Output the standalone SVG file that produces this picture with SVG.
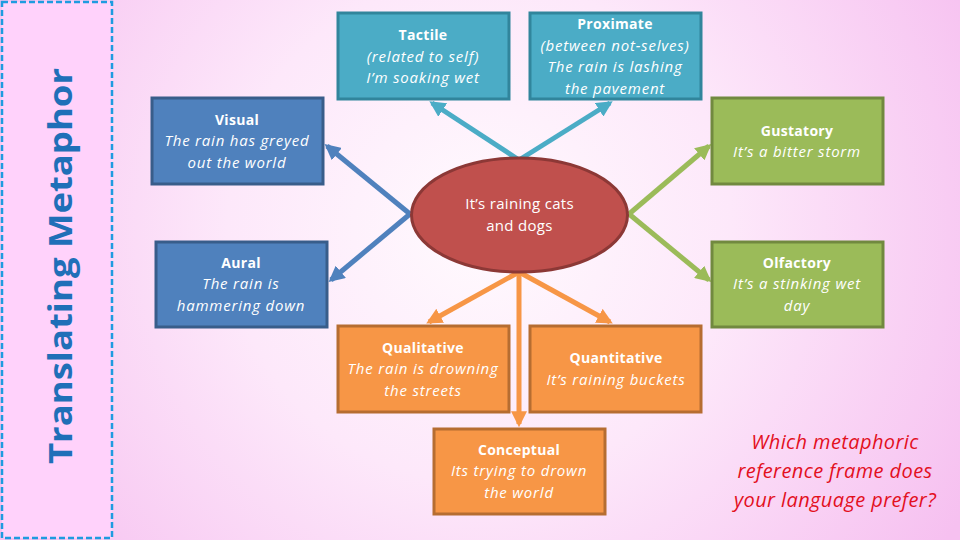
<svg xmlns="http://www.w3.org/2000/svg" width="960" height="540" viewBox="0 0 960 540">
<defs>
<radialGradient id="bg" cx="480" cy="230" r="560" gradientUnits="userSpaceOnUse">
<stop offset="0" stop-color="#fffafe"/>
<stop offset="0.45" stop-color="#fde8fa"/>
<stop offset="1" stop-color="#f6c0f0"/>
</radialGradient>
<marker id="aCyan" viewBox="0 0 10 10" refX="8" refY="5" markerWidth="3.2" markerHeight="3.2" orient="auto" markerUnits="strokeWidth"><path d="M0,0 L10,5 L0,10 Z" fill="#4bacc6"/></marker>
<marker id="aBlue" viewBox="0 0 10 10" refX="8" refY="5" markerWidth="3.2" markerHeight="3.2" orient="auto" markerUnits="strokeWidth"><path d="M0,0 L10,5 L0,10 Z" fill="#4f81bd"/></marker>
<marker id="aGreen" viewBox="0 0 10 10" refX="8" refY="5" markerWidth="3.2" markerHeight="3.2" orient="auto" markerUnits="strokeWidth"><path d="M0,0 L10,5 L0,10 Z" fill="#9bbb59"/></marker>
<marker id="aOrange" viewBox="0 0 10 10" refX="8" refY="5" markerWidth="3.2" markerHeight="3.2" orient="auto" markerUnits="strokeWidth"><path d="M0,0 L10,5 L0,10 Z" fill="#f79646"/></marker>
</defs>
<style>
text{font-family:"Open Sans","DejaVu Sans",sans-serif;fill:#ffffff;text-anchor:middle}
.t{font-weight:bold;font-size:14px;letter-spacing:0.3px}
.i{font-style:italic;font-size:15px;letter-spacing:0.8px}
.q{font-style:italic;font-size:20px;letter-spacing:0.4px;fill:#e3101e}
.cyan rect{fill:#4bacc6;stroke:#31859c;stroke-width:3}
.blue rect{fill:#4f81bd;stroke:#385d8a;stroke-width:3}
.green rect{fill:#9bbb59;stroke:#71893f;stroke-width:3}
.orange rect{fill:#f79646;stroke:#b66d31;stroke-width:3}
.c{fill:none;stroke-width:5}
</style>
<rect x="0" y="0" width="960" height="540" fill="url(#bg)"/>
<g id="sidebar">
<rect x="2" y="2" width="110" height="536" fill="#ffd2fb" stroke="#1e9be0" stroke-width="2.5" stroke-dasharray="6 3"/>
<text transform="translate(72,266) rotate(-90)" style="font-weight:bold;font-size:33px;fill:#1f6fb8" textLength="396" lengthAdjust="spacingAndGlyphs">Translating Metaphor</text>
</g>
<g id="connectors">
<line class="c" x1="519" y1="160" x2="432" y2="103" stroke="#4bacc6" marker-end="url(#aCyan)"/>
<line class="c" x1="519" y1="160" x2="610" y2="103" stroke="#4bacc6" marker-end="url(#aCyan)"/>
<line class="c" x1="410" y1="214" x2="327" y2="146" stroke="#4f81bd" marker-end="url(#aBlue)"/>
<line class="c" x1="410" y1="214" x2="331" y2="280" stroke="#4f81bd" marker-end="url(#aBlue)"/>
<line class="c" x1="629" y1="214" x2="709" y2="146" stroke="#9bbb59" marker-end="url(#aGreen)"/>
<line class="c" x1="629" y1="214" x2="709" y2="280" stroke="#9bbb59" marker-end="url(#aGreen)"/>
<line class="c" x1="519" y1="272" x2="429" y2="322" stroke="#f79646" marker-end="url(#aOrange)"/>
<line class="c" x1="519" y1="272" x2="610" y2="322" stroke="#f79646" marker-end="url(#aOrange)"/>
<line class="c" x1="519" y1="272" x2="519" y2="424" stroke="#f79646" marker-end="url(#aOrange)"/>
</g>
<g id="tactile" class="cyan">
<rect x="338" y="13" width="171" height="86"/>
<text class="t" x="423" y="40">Tactile</text>
<text class="i" x="423" y="62">(related to self)</text>
<text class="i" x="423" y="83">I’m soaking wet</text>
</g>
<g id="proximate" class="cyan">
<rect x="530" y="13" width="171" height="86"/>
<text class="t" x="615" y="29">Proximate</text>
<text class="i" x="615" y="51">(between not-selves)</text>
<text class="i" x="615" y="72">The rain is lashing</text>
<text class="i" x="615" y="94">the pavement</text>
</g>
<g id="visual" class="blue">
<rect x="152" y="98" width="171" height="86"/>
<text class="t" x="237" y="125">Visual</text>
<text class="i" x="237" y="146">The rain has greyed</text>
<text class="i" x="237" y="168">out the world</text>
</g>
<g id="aural" class="blue">
<rect x="156" y="242" width="171" height="85"/>
<text class="t" x="241" y="268">Aural</text>
<text class="i" x="241" y="289">The rain is</text>
<text class="i" x="241" y="311">hammering down</text>
</g>
<g id="gustatory" class="green">
<rect x="712" y="98" width="171" height="86"/>
<text class="t" x="797" y="136">Gustatory</text>
<text class="i" x="797" y="157">It’s a bitter storm</text>
</g>
<g id="olfactory" class="green">
<rect x="712" y="242" width="171" height="85"/>
<text class="t" x="797" y="268">Olfactory</text>
<text class="i" x="797" y="289">It’s a stinking wet</text>
<text class="i" x="797" y="311">day</text>
</g>
<g id="center">
<ellipse cx="519.5" cy="215" rx="108" ry="57" fill="#c0504d" stroke="#8c3836" stroke-width="3"/>
<text x="519.5" y="209" style="font-size:15px;letter-spacing:0.3px">It’s raining cats</text>
<text x="519.5" y="231" style="font-size:15px;letter-spacing:0.3px">and dogs</text>
</g>
<g id="qualitative" class="orange">
<rect x="338" y="326" width="171" height="86"/>
<text class="t" x="423" y="353">Qualitative</text>
<text class="i" x="423" y="374">The rain is drowning</text>
<text class="i" x="423" y="396">the streets</text>
</g>
<g id="quantitative" class="orange">
<rect x="530" y="326" width="171" height="86"/>
<text class="t" x="616" y="363">Quantitative</text>
<text class="i" x="616" y="385">It’s raining buckets</text>
</g>
<g id="conceptual" class="orange">
<rect x="434" y="429" width="171" height="85"/>
<text class="t" x="519" y="455">Conceptual</text>
<text class="i" x="519" y="476">Its trying to drown</text>
<text class="i" x="519" y="498">the world</text>
</g>
<g id="question">
<text class="q" x="835" y="449">Which metaphoric</text>
<text class="q" x="835" y="478">reference frame does</text>
<text class="q" x="835" y="507">your language prefer?</text>
</g>
</svg>
